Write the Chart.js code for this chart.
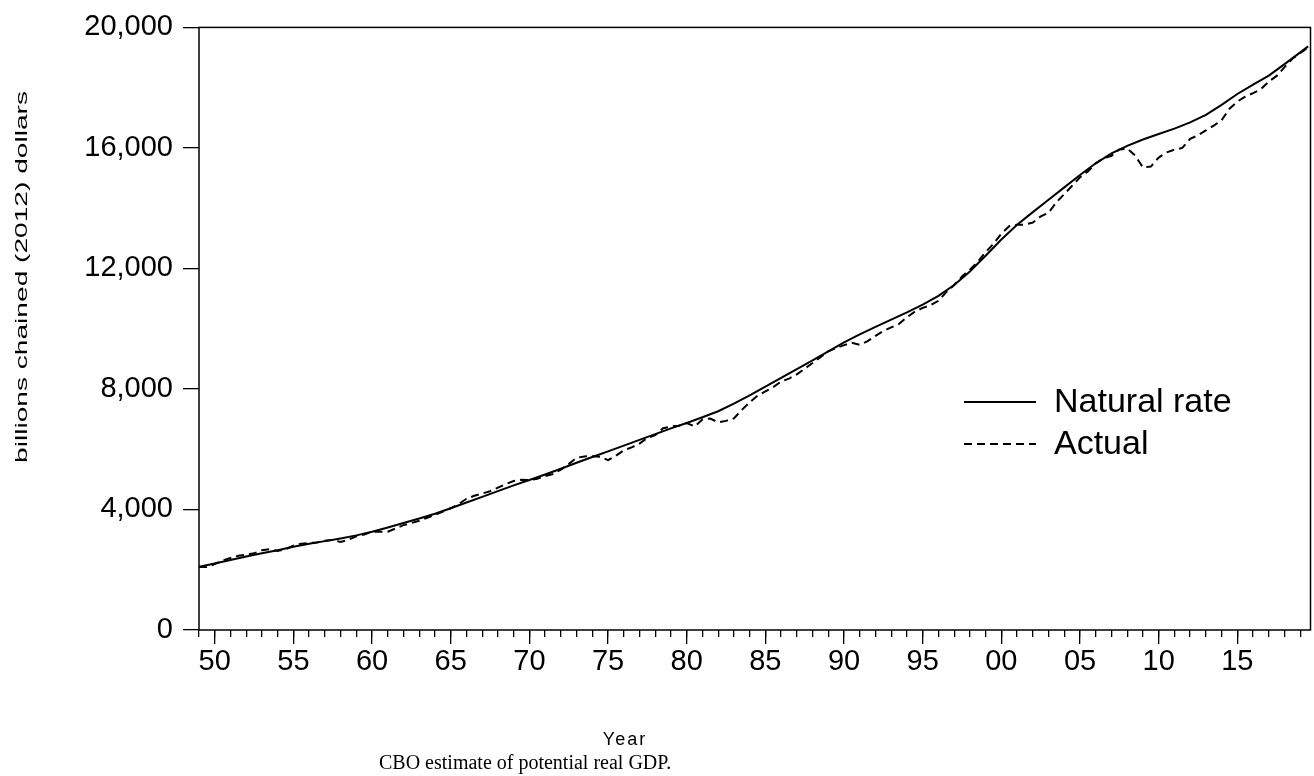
<!DOCTYPE html>
<html>
<head>
<meta charset="utf-8">
<script src="https://cdn.jsdelivr.net/npm/chart.js@4.4.0/dist/chart.umd.min.js"></script>
<style>
html,body{margin:0;padding:0;background:#fff;}
#wrap{width:1314px;height:776px;position:relative;background:#fff;}
canvas{display:block;}
</style>
</head>
<body>
<div id="wrap"><canvas id="c" width="1314" height="776"></canvas></div>
<script>
// ---------- data (billions of chained 2012 dollars) ----------
const seriesNames = ['Natural rate', 'Actual'];
const yAxisTitle = 'billions chained (2012) dollars';
const xAxisTitle = 'Year';
const caption = 'CBO estimate of potential real GDP.';

// potential (natural rate) output, one value per year 1949..2019, then mid-2019
const potentialYears = [1949,1950,1951,1952,1953,1954,1955,1956,1957,1958,1959,
  1960,1961,1962,1963,1964,1965,1966,1967,1968,1969,
  1970,1971,1972,1973,1974,1975,1976,1977,1978,1979,
  1980,1981,1982,1983,1984,1985,1986,1987,1988,1989,
  1990,1991,1992,1993,1994,1995,1996,1997,1998,1999,
  2000,2001,2002,2003,2004,2005,2006,2007,2008,2009,
  2010,2011,2012,2013,2014,2015,2016,2017,2018,2019,2019.5];
const potentialValues = [2100,2210,2320,2440,2550,2650,2760,2860,2950,3040,3140,
  3260,3400,3550,3700,3860,4040,4230,4420,4610,4800,
  4980,5160,5350,5550,5740,5930,6120,6310,6500,6690,
  6870,7060,7260,7510,7790,8080,8370,8660,8950,9250,
  9550,9810,10060,10300,10540,10800,11090,11450,11900,12420,
  12960,13450,13870,14280,14690,15100,15490,15820,16070,16280,
  16460,16640,16850,17100,17430,17790,18100,18400,18780,19170,19370];

// actual real GDP, half-year steps starting 1949.0
const actualStart = 1949;
const actualStep = 0.5;
const actualValues = [
  2090,2090, 2190,2310, 2390,2465, 2500,2545, 2650,2680,   // 1949-1953
  2625,2680, 2800,2865, 2890,2905, 2965,2990, 2920,2995,   // 1954-1958
  3110,3165, 3260,3265, 3265,3370, 3480,3550, 3625,3725,   // 1959-1963
  3820,3930, 4040,4175, 4355,4455, 4530,4605, 4725,4845,   // 1964-1968
  4945,4990, 4980,5020, 5110,5175, 5325,5505, 5715,5760,   // 1969-1973
  5770,5750, 5635,5785, 5965,6060, 6185,6375, 6465,6695,   // 1974-1978
  6755,6780, 6870,6755, 6990,7015, 6895,6940, 7020,7305,   // 1979-1983
  7555,7775, 7920,8060, 8245,8345, 8485,8675, 8860,9055,   // 1984-1988
  9250,9355, 9455,9535, 9465,9585, 9760,9925, 10045,10160, // 1989-1993
  10380,10565, 10690,10780, 10925,11215, 11450,11735, 11960,12220, // 1994-1998
  12545,12815, 13155,13400, 13450,13455, 13525,13725, 13850,14195, // 1999-2003
  14470,14745, 15025,15220, 15490,15655, 15740,15945, 15980,15750, // 2004-2008
  15350,15380, 15680,15850, 15940,16000, 16300,16420, 16580,16740, // 2009-2013
  16920,17300, 17540,17700, 17820,17950, 18200,18390, 18680,18960, // 2014-2018
  19150,19330                                                       // 2019
];

const xMin = 1949.0, xMax = 2019.65;
const yTicks = [0, 4000, 8000, 12000, 16000, 20000];

// ---------- build ----------
const potentialData = potentialYears.map((yr, i) => ({x: yr, y: potentialValues[i]}));
const actualData = actualValues.map((v, i) => ({x: actualStart + i * actualStep, y: v}));

const FONT = '"Liberation Sans", Arial, Helvetica, sans-serif';

const framePlugin = {
  id: 'frame',
  afterDatasetsDraw(chart) {
    const {ctx, chartArea: a} = chart;
    ctx.save();
    ctx.strokeStyle = '#000';
    ctx.lineWidth = 1.5;
    ctx.strokeRect(a.left, a.top, a.right - a.left, a.bottom - a.top);
    ctx.restore();
  }
};

const legendPlugin = {
  id: 'innerLegend',
  afterDatasetsDraw(chart) {
    const ctx = chart.ctx;
    const x0 = 964, x1 = 1036, tx = 1054;
    const rows = [402, 444];
    ctx.save();
    chart.data.datasets.forEach((ds, i) => {
      const y = rows[i];
      ctx.beginPath();
      ctx.strokeStyle = ds.borderColor;
      ctx.lineWidth = ds.borderWidth;
      ctx.setLineDash(ds.borderDash || []);
      ctx.moveTo(x0, y); ctx.lineTo(x1, y);
      ctx.stroke();
      ctx.setLineDash([]);
      ctx.fillStyle = '#000';
      ctx.font = '34px ' + FONT;
      ctx.textAlign = 'left';
      ctx.textBaseline = 'middle';
      ctx.fillText(ds.label, tx, y + 1);
    });
    ctx.restore();
  }
};

const textPlugin = {
  id: 'texts',
  afterDraw(chart) {
    const ctx = chart.ctx;
    ctx.save();
    ctx.fillStyle = '#000';
    // y-axis title (rotated)
    ctx.save();
    ctx.translate(22, 277);
    ctx.rotate(-Math.PI / 2);
    ctx.font = '17px ' + FONT;
    ctx.textAlign = 'center';
    ctx.textBaseline = 'middle';
    const w = ctx.measureText(yAxisTitle).width;
    ctx.scale(372 / w, 1);
    ctx.fillText(yAxisTitle, 0, 0);
    ctx.restore();
    // x-axis title
    ctx.font = '18px ' + FONT;
    ctx.textAlign = 'center';
    ctx.textBaseline = 'middle';
    try { ctx.letterSpacing = '2px'; } catch (e) {}
    ctx.fillText(xAxisTitle, 625, 740);
    try { ctx.letterSpacing = '0px'; } catch (e) {}
    // caption
    ctx.font = '20px "Liberation Serif", "Times New Roman", serif';
    ctx.textAlign = 'left';
    ctx.textBaseline = 'middle';
    ctx.fillText(caption, 379, 764);
    ctx.restore();
  }
};

new Chart(document.getElementById('c'), {
  type: 'line',
  data: {
    datasets: [
      {label: seriesNames[0], data: potentialData, borderColor: '#000', borderWidth: 2,
       pointRadius: 0, fill: false, tension: 0},
      {label: seriesNames[1], data: actualData, borderColor: '#000', borderWidth: 2,
       borderDash: [8, 5], pointRadius: 0, fill: false, tension: 0}
    ]
  },
  options: {
    responsive: false,
    animation: false,
    devicePixelRatio: 1,
    layout: {padding: {left: 0, right: 3.5, top: 26, bottom: 0}},
    plugins: {legend: {display: false}, tooltip: {enabled: false}, title: {display: false}},
    scales: {
      xMinor: {
        type: 'linear', position: 'bottom', min: xMin, max: xMax,
        grid: {drawOnChartArea: false, drawTicks: true, tickLength: 7, color: '#000', lineWidth: 1.3},
        border: {display: false},
        ticks: {stepSize: 1, display: false, autoSkip: false, includeBounds: false},
        afterFit(s) { s.height = 0; }
      },
      x: {
        type: 'linear', position: 'bottom', min: xMin, max: xMax,
        grid: {drawOnChartArea: false, drawTicks: true, tickLength: 14, color: '#000', lineWidth: 1.3},
        border: {display: false},
        ticks: {
          stepSize: 5, autoSkip: false, includeBounds: false, maxRotation: 0, minRotation: 0,
          padding: 1, color: '#000', font: {family: FONT, size: 29},
          callback: v => String(Math.round(v) % 100).padStart(2, '0')
        },
        afterFit(s) { s.height = 146; }
      },
      y: {
        type: 'linear', position: 'left', min: 0, max: 20000,
        afterBuildTicks(s) { s.ticks = yTicks.map(v => ({value: v})); },
        grid: {drawOnChartArea: false, drawTicks: true, tickLength: 16, color: '#000', lineWidth: 1.3},
        border: {display: false},
        ticks: {
          padding: 10, color: '#000', font: {family: FONT, size: 29},
          callback: v => Number(v).toLocaleString('en-US')
        },
        afterFit(s) { s.width = 199; }
      }
    }
  },
  plugins: [framePlugin, legendPlugin, textPlugin]
});
</script>
</body>
</html>
